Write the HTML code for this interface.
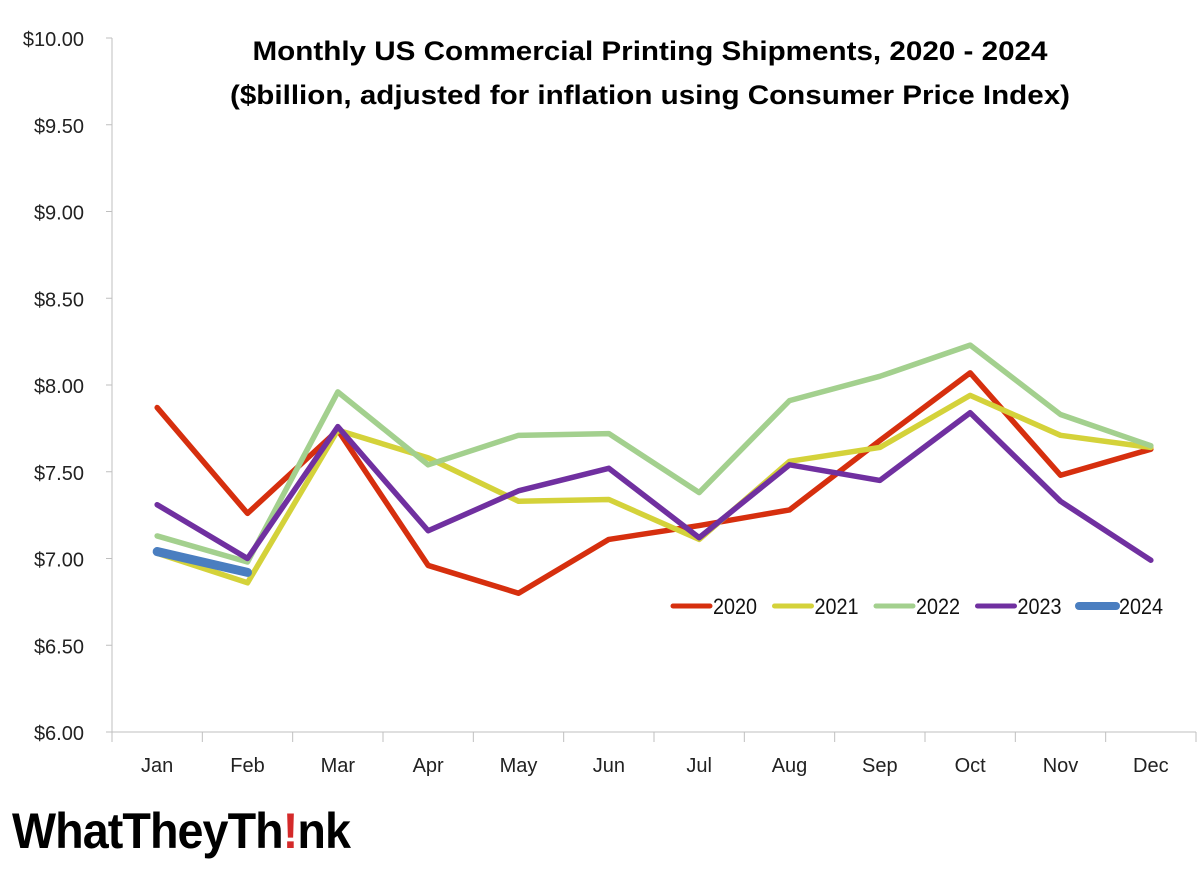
<!DOCTYPE html>
<html><head><meta charset="utf-8"><style>
body{margin:0;background:#fff;}
svg{display:block;font-family:"Liberation Sans",sans-serif;}
</style></head><body>
<svg id="chart" width="1200" height="870">
<g>
<text x="650" y="60" text-anchor="middle" font-size="27" font-weight="bold" textLength="795" lengthAdjust="spacingAndGlyphs">Monthly US Commercial Printing Shipments, 2020 - 2024</text>
<text x="650" y="104" text-anchor="middle" font-size="27" font-weight="bold" textLength="840" lengthAdjust="spacingAndGlyphs">($billion, adjusted for inflation using Consumer Price Index)</text>
</g>
<g id="axes"></g>
<g id="series"></g>
<g id="legend"></g>
<g>
<text x="12" y="848" font-size="50" font-weight="bold" textLength="338" lengthAdjust="spacingAndGlyphs" letter-spacing="-1">WhatTheyTh<tspan fill="#d42a2a">!</tspan>nk</text>
</g>
</svg>
<script>
const months=["Jan","Feb","Mar","Apr","May","Jun","Jul","Aug","Sep","Oct","Nov","Dec"];
const yTicks=[6,6.5,7,7.5,8,8.5,9,9.5,10];
const years=["2020","2021","2022","2023","2024"];
const colors=["#d62f0e","#d4d23a","#a3d08e","#7030a0","#4a7ec0"];
const s2020=[7.87,7.26,7.74,6.96,6.80,7.11,7.19,7.28,7.68,8.07,7.48,7.63];
const s2021=[7.03,6.86,7.74,7.58,7.33,7.34,7.11,7.56,7.64,7.94,7.71,7.64];
const s2022=[7.13,6.98,7.96,7.54,7.71,7.72,7.38,7.91,8.05,8.23,7.83,7.65];
const s2023=[7.31,7.00,7.76,7.16,7.39,7.52,7.12,7.54,7.45,7.84,7.33,6.99];
const s2024=[7.04,6.92];
const series=[s2020,s2021,s2022,s2023,s2024];
const NS="http://www.w3.org/2000/svg";
const x0=112,x1=1196,yb=732,yt=38;
const bw=(x1-x0)/12;
const X=i=>x0+bw*(i+0.5);
const Y=v=>yb-(v-6)/4*(yb-yt);
function mk(t,a,p){const e=document.createElementNS(NS,t);for(const k in a)e.setAttribute(k,a[k]);p.appendChild(e);return e;}
const ax=document.getElementById('axes');
let l=mk('line',{x1:x0,y1:yt,x2:x0,y2:yb,stroke:'#bfbfbf','stroke-width':1},ax);


l=mk('line',{x1:x0,y1:yb,x2:x1,y2:yb,stroke:'#bfbfbf','stroke-width':1},ax);


yTicks.forEach(v=>{
 const t=mk('text',{x:84,y:Y(v)+8,'text-anchor':'end','font-size':20,fill:'#222'},ax);
 t.textContent='$'+v.toFixed(2);
 
 
 const tk=mk('line',{x1:x0-6,y1:Y(v),x2:x0,y2:Y(v),stroke:'#bfbfbf'},ax);
 
 
});
for(let i=0;i<=12;i++){
 const tk=mk('line',{x1:x0+bw*i,y1:yb,x2:x0+bw*i,y2:yb+10,stroke:'#bfbfbf'},ax);
 
 
}
months.forEach((m,i)=>{
 const t=mk('text',{x:X(i),y:772,'text-anchor':'middle','font-size':20,fill:'#222'},ax);
 t.textContent=m;
 
 
});
const sg=document.getElementById('series');
series.forEach((s,k)=>{
 const p=mk('polyline',{points:s.map((v,i)=>X(i)+','+Y(v)).join(' '),fill:'none',stroke:colors[k],'stroke-width':k==4?9:5.5,'stroke-linejoin':'round','stroke-linecap':'round'},sg);
 
 
});
const lg=document.getElementById('legend');
years.forEach((y,k)=>{
 const lx=673+k*101.5;
 const g=mk('g',{},lg);
 
 
 mk('line',{x1:lx,y1:606,x2:lx+37,y2:606,stroke:colors[k],'stroke-width':k==4?8:5,'stroke-linecap':'round'},g);
 const t=mk('text',{x:lx+40,y:614,'font-size':22,fill:'#111',textLength:44,lengthAdjust:'spacingAndGlyphs'},g);
 t.textContent=y;
});
</script>
</body></html>
